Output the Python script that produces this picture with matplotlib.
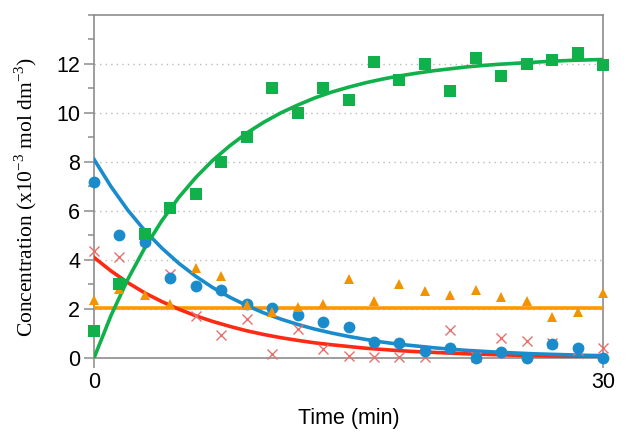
import numpy as np
import matplotlib
matplotlib.use("Agg")
import matplotlib.pyplot as plt
from matplotlib.ticker import MultipleLocator

# measured points, every 1.5 min
t_pts = [0, 1.5, 3, 4.5, 6, 7.5, 9, 10.5, 12, 13.5, 15,
         16.5, 18, 19.5, 21, 22.5, 24, 25.5, 27, 28.5, 30]
green_pts = [1.1, 3.0, 5.05, 6.1, 6.7, 8.0, 9.0, 11.0, 10.0, 11.0, 10.5,
             12.05, 11.35, 12.0, 10.9, 12.25, 11.5, 12.0, 12.15, 12.45, 11.95]
blue_pts = [7.17, 5.0, 4.73, 3.28, 2.93, 2.77, 2.22, 2.05, 1.75, 1.45, 1.27,
            0.66, 0.62, 0.3, 0.39, 0.0, 0.23, 0.0, 0.57, 0.42, 0.0]
orange_pts = [2.36, 2.8, 2.56, 2.2, 3.67, 3.34, 2.18, 1.88, 2.06, 2.2, 3.24,
              2.32, 3.01, 2.74, 2.56, 2.77, 2.47, 2.33, 1.68, 1.86, 2.66]
red_pts = [4.35, 4.12, 4.8, 3.44, 1.71, 0.94, 1.59, 0.16, 1.17, 0.37, 0.09,
           0.03, 0.03, 0.03, 1.14, 0.05, 0.83, 0.69, 0.6, 0.33, 0.39]

# fitted curves, read every minute
t_fit = list(range(31))
green_fit = [0, 1.73, 3.22, 4.50, 5.60, 6.55, 7.36, 8.06, 8.65, 9.17, 9.61,
             9.99, 10.31, 10.60, 10.84, 11.04, 11.22, 11.37, 11.50, 11.61,
             11.71, 11.79, 11.87, 11.93, 11.98, 12.02, 12.06, 12.10, 12.13,
             12.15, 12.17]
blue_fit = [8.10, 6.99, 6.02, 5.19, 4.48, 3.86, 3.33, 2.87, 2.48, 2.14, 1.84,
            1.59, 1.37, 1.18, 1.02, 0.88, 0.76, 0.65, 0.56, 0.49, 0.42,
            0.36, 0.31, 0.27, 0.23, 0.20, 0.17, 0.15, 0.13, 0.11, 0.095]
red_fit = [4.10, 3.55, 3.07, 2.65, 2.30, 1.99, 1.72, 1.49, 1.29, 1.11, 0.96,
           0.83, 0.72, 0.62, 0.54, 0.47, 0.40, 0.35, 0.30, 0.26, 0.23,
           0.20, 0.17, 0.15, 0.13, 0.11, 0.094, 0.082, 0.071, 0.061, 0.053]
orange_fit_t = [0, 30]
orange_fit = [2.05, 2.05]

GREEN = '#10b04a'
BLUE = '#1a8ccc'
RED = '#ff2a14'
ORANGE = '#ff9800'
RED_X = '#e8706a'
ORANGE_TRI = '#f29400'

plt.rcParams['mathtext.fontset'] = 'custom'
plt.rcParams['mathtext.rm'] = 'Liberation Serif'

fig = plt.figure(figsize=(6.28, 4.42), dpi=100)
ax = fig.add_axes([0.1497, 0.19, 0.8105, 0.777])

# fit lines
ax.plot(orange_fit_t, orange_fit, color=ORANGE, lw=2.6, zorder=3)
ax.plot(t_fit, red_fit, color=RED, lw=2.6, zorder=3)
ax.plot(t_fit, blue_fit, color=BLUE, lw=2.6, zorder=3)
ax.plot(t_fit, green_fit, color=GREEN, lw=2.6, zorder=3)

# data points
ax.plot(t_pts, red_pts, 'x', color=RED_X, ms=6.5, mew=1.0,
        clip_on=False, zorder=4)
ax.plot(t_pts, blue_pts, 'o', color=BLUE, ms=8.5, mew=0,
        clip_on=False, zorder=5)
ax.plot(t_pts, orange_pts, '^', color=ORANGE_TRI, ms=7, mew=0,
        clip_on=False, zorder=6)
ax.plot(t_pts, green_pts, 's', color=GREEN, ms=8, mew=0,
        clip_on=False, zorder=7)

ax.set_xlim(0, 30)
ax.set_ylim(0, 14)
ax.set_xticks([0, 30])
ax.set_yticks([0, 2, 4, 6, 8, 10, 12])
ax.yaxis.set_minor_locator(MultipleLocator(1))

for y in [2, 4, 6, 8, 10, 12]:
    ax.axhline(y, color='#bbbbbb', lw=1.0, ls=(0, (1, 3)), zorder=1)

for s in ax.spines.values():
    s.set_color('#8c8c8c')
    s.set_linewidth(1.2)

ax.tick_params(axis='both', which='major', direction='out', length=7,
               width=1.1, color='#8c8c8c', labelsize=15.5, pad=3)
ax.tick_params(axis='y', which='minor', direction='out', length=4,
               width=1.1, color='#8c8c8c')
for lab in ax.get_xticklabels() + ax.get_yticklabels():
    lab.set_family('Liberation Sans')

ax.set_xlabel('Time (min)', family='Liberation Sans', fontsize=15.5,
              labelpad=11)
ax.set_ylabel('Concentration (x10$^{-3}$ mol dm$^{-3}$)',
              family='Liberation Serif', fontsize=15.5)
ax.yaxis.set_label_coords(-0.108, 0.47)

fig.savefig('out.png', dpi=100)
